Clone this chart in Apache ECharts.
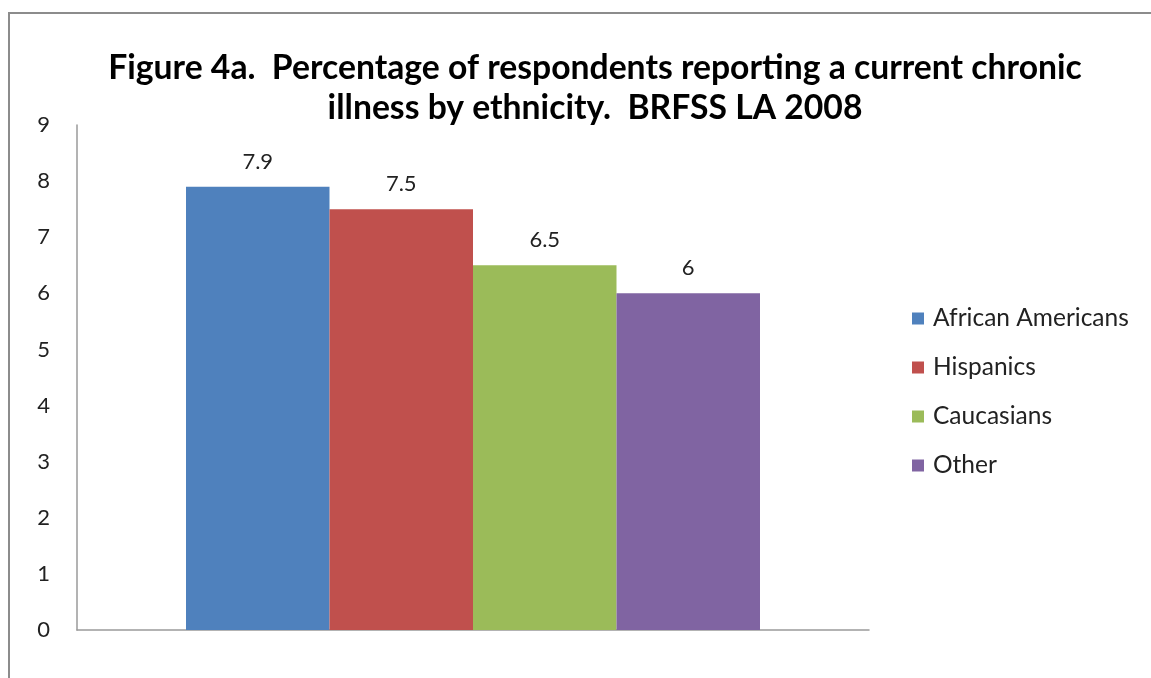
<!DOCTYPE html>
<html>
<head>
<meta charset="utf-8">
<script src="https://cdn.jsdelivr.net/npm/echarts@6/dist/echarts.min.js"></script>
<style>
  html, body { margin: 0; padding: 0; background: #fff; }
  #chart { width: 1151px; height: 678px; }
</style>
</head>
<body>
<div id="chart"></div>
<script>
// Chronic illness prevalence by ethnicity, BRFSS LA 2008
const categories = ['2008'];
const seriesNames = ['African Americans', 'Hispanics', 'Caucasians', 'Other'];
const seriesValues = [[7.9], [7.5], [6.5], [6]];
const seriesColors = ['#4F81BD', '#C0504D', '#9BBB59', '#8064A2'];
const yTicks = { min: 0, max: 9, interval: 1 };

const font = 'Lato, "Open Sans", sans-serif';

const chart = echarts.init(document.getElementById('chart'), null, { renderer: 'canvas' });

chart.setOption({
  backgroundColor: '#ffffff',
  animation: false,
  title: {
    text: 'Figure 4a.  Percentage of respondents reporting a current chronic\nillness by ethnicity.  BRFSS LA 2008',
    left: 590,
    textAlign: 'center',
    top: 43,
    textStyle: {
      fontFamily: font,
      fontWeight: 'bold',
      fontSize: 33.7,
      lineHeight: 40,
      color: '#000'
    }
  },
  legend: {
    orient: 'vertical',
    left: 912,
    top: 306,
    padding: 0,
    itemWidth: 12,
    itemHeight: 12,
    itemGap: 24,
    icon: 'rect',
    textStyle: { fontFamily: font, fontSize: 24.5, lineHeight: 24, color: '#222', padding: [0, 0, 0, 4] },
    data: seriesNames
  },
  grid: { left: 77, right: 282, top: 125, bottom: 48, containLabel: false },
  xAxis: {
    type: 'category',
    data: categories,
    axisLine: { lineStyle: { color: '#9a9a9a', width: 1.5 } },
    axisTick: { show: false },
    axisLabel: { show: false }
  },
  yAxis: {
    type: 'value',
    min: yTicks.min,
    max: yTicks.max,
    interval: yTicks.interval,
    axisLine: { show: true, lineStyle: { color: '#9a9a9a', width: 1.5 } },
    axisTick: { show: false },
    splitLine: { show: false },
    axisLabel: { fontFamily: font, fontSize: 22, color: '#222', margin: 27 }
  },
  graphic: [{
    type: 'rect',
    silent: true,
    shape: { x: 9, y: 13, width: 1300, height: 800 },
    style: { fill: 'none', stroke: '#8c8c8c', lineWidth: 2 }
  }],
  series: seriesNames.map((name, i) => ({
    name,
    type: 'bar',
    data: seriesValues[i],
    barWidth: 143.5,
    barGap: '0%',
    itemStyle: { color: seriesColors[i] },
    label: {
      show: true,
      position: 'top',
      distance: 14,
      fontFamily: font,
      fontSize: 22,
      color: '#222'
    }
  }))
});
</script>
</body>
</html>
